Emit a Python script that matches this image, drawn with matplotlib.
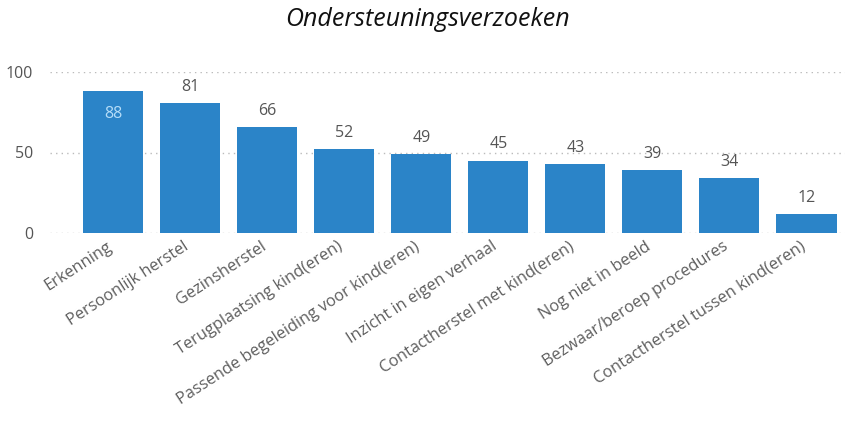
import matplotlib
matplotlib.use("Agg")
import matplotlib.pyplot as plt
import matplotlib.transforms as mtransforms

categories = ["Erkenning", "Persoonlijk herstel", "Gezinsherstel",
              "Terugplaatsing kind(eren)", "Passende begeleiding voor kind(eren)",
              "Inzicht in eigen verhaal", "Contactherstel met kind(eren)",
              "Nog niet in beeld", "Bezwaar/beroep procedures",
              "Contactherstel tussen kind(eren)"]
values = [88, 81, 66, 52, 49, 45, 43, 39, 34, 12]
yticks = [0, 50, 100]

plt.rcParams['font.family'] = ['Open Sans', 'DejaVu Sans']

fig = plt.figure(figsize=(8.46, 4.21), dpi=100)
ax = fig.add_axes([50/846, (421-233)/421, 795/846, (233-72)/421])

bar_color = "#2B84C8"
x = list(range(len(categories)))
ax.bar(x, values, width=0.78, color=bar_color, zorder=3)

for i, v in enumerate(values):
    if i == 0:
        ax.text(i, v - 9, str(v), ha='center', va='top', fontsize=11.5,
                color="#B5DDF8", zorder=4)
    else:
        ax.text(i, v + 5, str(v), ha='center', va='bottom', fontsize=11.5,
                color="#555555", zorder=4)

ax.set_xlim(-0.82, 9.5)
ax.set_ylim(0, 100)
ax.set_yticks(yticks)
ax.set_yticklabels([str(t) for t in yticks], fontsize=11.5, color="#555555")
ax.tick_params(axis='y', length=0, pad=12)
ax.tick_params(axis='x', length=0, pad=4)
ax.yaxis.grid(True, linestyle=(0, (1, 3)), color="#BBBBBB", linewidth=1, zorder=0)
ax.set_axisbelow(True)
for s in ax.spines.values():
    s.set_visible(False)

ax.set_xticks(x)
ax.set_xticklabels(categories, rotation=33, ha='right', rotation_mode='anchor',
                   fontsize=11.8, color="#5E5E5E")
shift = mtransforms.ScaledTranslation(-7/100, 0, fig.dpi_scale_trans)
for lbl in ax.get_xticklabels():
    lbl.set_transform(lbl.get_transform() + shift)

fig.text(427/846, 1 - 20/421, "Ondersteuningsverzoeken", ha='center', va='center',
         fontsize=18, style='italic', color="#111111")

fig.savefig("out.png", dpi=100)
